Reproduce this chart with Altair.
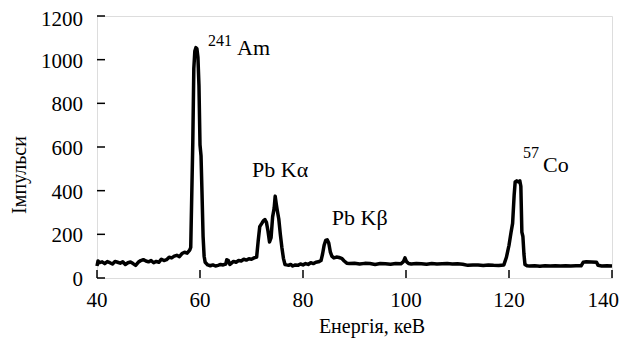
import altair as alt
import pandas as pd

# Spectrum (energy keV, counts)
energy = [40.0, 40.2, 40.5, 41.0, 41.5, 42.0, 42.5, 43.0, 43.5, 44.0, 44.5, 45.0, 45.5, 46.0, 46.5,
          47.0, 47.5, 48.0, 48.5, 49.0, 49.5, 50.0, 50.5, 51.0, 51.5, 52.0, 52.5, 53.0, 53.5, 54.0,
          54.5, 55.0, 55.5, 56.0, 56.5, 57.0, 57.5, 58.0, 58.2, 58.4, 58.6, 58.8, 59.0, 59.2, 59.4,
          59.6, 59.8, 60.0, 60.2, 60.4, 60.6, 60.8, 61.0, 61.5, 62.0, 62.5, 63.0, 63.5, 64.0, 64.5,
          65.0, 65.2, 65.5, 65.8, 66.0, 66.5, 67.0, 67.5, 68.0, 68.5, 69.0, 69.5, 70.0, 70.5, 71.0,
          71.3, 71.6, 72.0, 72.3, 72.6, 72.9, 73.2, 73.5, 73.8, 74.1, 74.4, 74.6, 74.8, 75.0, 75.3,
          75.6, 75.9, 76.2, 76.5, 76.8, 77.2, 77.6, 78.0, 78.5, 79.0, 79.5, 80.0, 80.5, 81.0, 81.5,
          82.0, 82.5, 83.0, 83.5, 83.8, 84.1, 84.4, 84.7, 85.0, 85.3, 85.6, 86.0, 86.5, 87.0, 87.5,
          88.0, 88.5, 89.0, 90.0, 91.0, 92.0, 93.0, 94.0, 95.0, 96.0, 97.0, 98.0, 99.0, 99.5, 99.8,
          100.1, 100.5, 101.0, 102.0, 103.0, 104.0, 105.0, 106.0, 107.0, 108.0, 109.0, 110.0, 111.0,
          112.0, 113.0, 114.0, 115.0, 116.0, 117.0, 118.0, 119.0, 119.5, 120.0, 120.4, 120.7, 121.0,
          121.2, 121.5, 121.8, 122.1, 122.3, 122.5, 122.7, 122.9, 123.1, 123.5, 124.0, 125.0, 126.0,
          127.0, 128.0, 129.0, 130.0, 131.0, 132.0, 133.0, 134.0, 134.4, 135.0, 136.0, 137.0, 137.3,
          138.0, 139.0, 140.0]
counts = [55, 78, 70, 74, 66, 75, 70, 64, 76, 72, 68, 74, 62, 70, 73,
          66, 58, 72, 80, 84, 78, 74, 80, 70, 76, 72, 86, 80, 84, 95,
          92, 100, 104, 98, 112, 118, 114, 128, 140, 380, 620, 960, 1040, 1055, 1050,
          1010, 880, 610, 560, 380, 190, 100, 72, 60, 56, 60, 55, 58, 62, 60,
          64, 84, 80, 62, 66, 76, 72, 80, 78, 86, 82, 88, 86, 92, 96,
          170, 235, 250, 262, 268, 255, 215, 165, 185, 280, 320, 375, 340, 310, 270,
          200, 140, 90, 62, 60, 58, 62, 55, 60, 58, 64, 60, 66, 62, 70,
          66, 72, 74, 80, 110, 150, 172, 175, 160, 120, 100, 92, 96, 94, 90,
          78, 68, 66, 68, 64, 67, 66, 62, 66, 65, 63, 66, 65, 75, 92,
          75, 66, 64, 66, 65, 63, 66, 64, 65, 66, 64, 65, 63,
          58, 60, 59, 57, 60, 58, 57, 60, 95, 150, 210, 250, 380,
          440, 445, 440, 445, 420, 210, 190, 110, 62, 56, 55, 56, 54,
          56, 55, 56, 55, 56, 55, 56, 56, 72, 74, 73, 72, 58,
          55, 56, 55]

x_ticks = [40, 60, 80, 100, 120, 140]
y_ticks = [0, 200, 400, 600, 800, 1000, 1200]
x_title = "Енергія, кеВ"
y_title = "Імпульси"

# Annotations (position in data units)
ann_text = ["Am", "Pb Kα", "Pb Kβ", "Co"]
ann_x = [67.2, 70.1, 85.6, 126.6]
ann_y = [1021, 463, 243, 485]
sup_text = ["241", "57"]
sup_x = [61.55, 122.7]
sup_y = [1062, 550]

FONT = "Times New Roman, Liberation Serif, DejaVu Serif, serif"
W, H = 515, 262

spec = pd.DataFrame({"E": energy, "C": counts})
xt = pd.DataFrame({"E": x_ticks})
yt = pd.DataFrame({"C": y_ticks})
ann = pd.DataFrame({"txt": ann_text, "E": ann_x, "C": ann_y})
sup = pd.DataFrame({"txt": sup_text, "E": sup_x, "C": sup_y})
xt_main = xt[xt["E"] < max(x_ticks)]
xt_last = xt[xt["E"] == max(x_ticks)]
yt_main = yt[yt["C"] < max(y_ticks)]
yt_top = yt[yt["C"] == max(y_ticks)]

xscale = alt.Scale(domain=[40, 140], nice=False, zero=False)
yscale = alt.Scale(domain=[0, 1200], nice=False)

X = alt.X("E:Q", scale=xscale, axis=None)
Y = alt.Y("C:Q", scale=yscale, axis=None)

line = alt.Chart(spec).mark_line(color="black", strokeWidth=3.5, strokeJoin="round").encode(
    x=X, y=Y)

xtick_marks = alt.Chart(xt).mark_rule(color="black", strokeWidth=1.5).encode(
    x=X, y=alt.value(H), y2=alt.value(H - 8))
ytick_marks = alt.Chart(yt).mark_rule(color="black", strokeWidth=1.5).encode(
    y=Y, x=alt.value(0), x2=alt.value(8))

xlab = alt.Chart(xt_main).mark_text(font=FONT, fontSize=21, align="center",
                                    baseline="alphabetic", color="black").encode(
    x=X, y=alt.value(H + 29), text=alt.Text("E:Q", format="d"))
xlab_last = alt.Chart(xt_last).mark_text(font=FONT, fontSize=21, align="right", dx=7,
                                         baseline="alphabetic", color="black").encode(
    x=X, y=alt.value(H + 29), text=alt.Text("E:Q", format="d"))
ylab = alt.Chart(yt_main).mark_text(font=FONT, fontSize=21, align="right", dx=-14, dy=2,
                                    baseline="middle", color="black").encode(
    x=alt.value(0), y=Y, text=alt.Text("C:Q", format="d"))
ylab_top = alt.Chart(yt_top).mark_text(font=FONT, fontSize=21, align="right", dx=-14, dy=4,
                                       baseline="middle", color="black").encode(
    x=alt.value(0), y=Y, text=alt.Text("C:Q", format="d"))

xtitle = alt.Chart(pd.DataFrame({"t": [x_title]})).mark_text(
    font=FONT, fontSize=20, align="center", baseline="alphabetic", color="black").encode(
    x=alt.value(275), y=alt.value(H + 55), text="t:N")
ytitle = alt.Chart(pd.DataFrame({"t": [y_title]})).mark_text(
    font=FONT, fontSize=20, align="center", baseline="middle", angle=270, color="black").encode(
    x=alt.value(-77), y=alt.value(159), text="t:N")

labels = alt.Chart(ann).mark_text(font=FONT, fontSize=22, align="left",
                                  baseline="alphabetic", color="black").encode(
    x=X, y=Y, text="txt:N")
sups = alt.Chart(sup).mark_text(font=FONT, fontSize=16, align="left",
                                baseline="alphabetic", color="black").encode(
    x=X, y=Y, text="txt:N")

chart = alt.layer(line, xtick_marks, ytick_marks, xlab, xlab_last, ylab, ylab_top,
                  xtitle, ytitle, labels, sups).properties(
    width=W, height=H,
    autosize=alt.AutoSizeParams(type="none"),
    padding={"left": 89, "top": 8, "right": 7, "bottom": 61},
).configure_view(stroke="black", strokeWidth=2).configure(background="white")

chart.save("out.html", embed_options={"renderer": "svg", "actions": False})
